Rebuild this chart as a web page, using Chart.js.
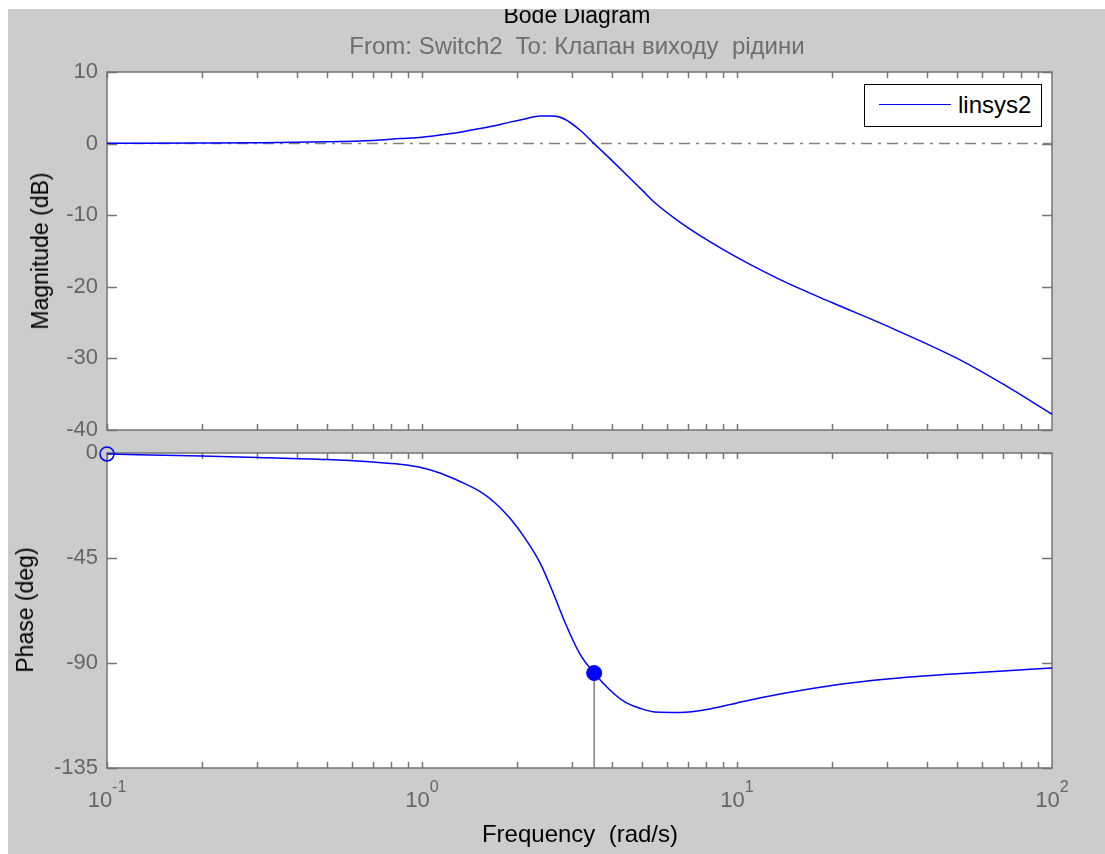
<!DOCTYPE html>
<html>
<head>
<meta charset="utf-8">
<script src="https://cdn.jsdelivr.net/npm/chart.js@4.4.1/dist/chart.umd.min.js"></script>
<style>
	html, body { margin: 0; padding: 0; background: #fff; width: 1105px; height: 854px; overflow: hidden; font-family: "Liberation Sans", Arial, sans-serif; }
	#bg { position: absolute; left: 8px; top: 9px; width: 1097px; height: 845px; background: #cccccc; }
	#topMask { position: absolute; left: 0; top: 0; width: 1105px; height: 9px; background: #fff; z-index: 5; }
	canvas { position: absolute; left: 0; top: 0; }
	.txt { position: absolute; white-space: pre; font-size: 23px; line-height: 26px; }
	.rot { transform: translate(-50%, -50%) rotate(-90deg); }
	#legend { position: absolute; left: 864px; top: 84px; width: 176px; height: 41px; border: 1px solid #000; background: #fff; z-index: 3; }
	#legend .sample { position: absolute; left: 14px; top: 19px; width: 72px; height: 0; border-top: 1.5px solid #0000ff; }
	#legend .lbl { position: absolute; left: 93px; top: 7px; font-size: 24px; line-height: 26px; color: #000; }
</style>
</head>
<body>
<div id="bg"></div>
<canvas id="magChart" width="1105" height="854"></canvas>
<canvas id="phaseChart" width="1105" height="854"></canvas>
<div id="topMask"></div>
<div class="txt" style="left:377px; width:400px; text-align:center; top:2px; color:#000;">Bode Diagram</div>
<div class="txt" style="left:277px; width:600px; text-align:center; top:33px; color:#6e6e6e; font-size:24px;">From: Switch2  To: Клапан виходу  рідини</div>
<div class="txt rot" style="left:40px; top:251px; color:#000;">Magnitude (dB)</div>
<div class="txt rot" style="left:25px; top:610px; color:#000;">Phase (deg)</div>
<div class="txt" style="left:380px; width:400px; text-align:center; top:821px; color:#000; font-size:24px;">Frequency  (rad/s)</div>
<div id="legend"><div class="sample"></div><div class="lbl">linsys2</div></div>

<script>
// --- Data ---
const freq = [0.1, 0.2, 0.3, 0.5, 0.7, 0.85, 1.0, 1.14, 1.32, 1.53, 1.7, 1.9, 2.12, 2.37, 2.6, 2.84, 3.17, 3.52, 3.95, 4.4, 5.0, 5.5, 6.6, 8.2, 10, 13.7, 20, 30, 50, 70, 100];
const magDb = [0.05, 0.08, 0.12, 0.25, 0.45, 0.7, 0.9, 1.2, 1.6, 2.1, 2.5, 3.0, 3.45, 3.85, 3.85, 3.4, 1.9, 0.0, -2.1, -4.1, -6.5, -8.3, -11.0, -13.7, -15.9, -19.0, -22.2, -25.5, -30.0, -33.6, -37.8];
const phaseDeg = [-0.4, -1.3, -1.9, -2.8, -3.9, -4.8, -6.3, -8.6, -12.2, -16.6, -21.2, -27.9, -36.4, -47.1, -59.5, -72.4, -86.1, -94.3, -101.6, -106.7, -109.7, -111.0, -111.2, -109.7, -107.1, -103.3, -99.6, -96.9, -94.6, -93.4, -92.1];

const markerFreq = [3.52];
const markerPhase = [-94.3];

const magTicks = [-40, -30, -20, -10, 0, 10];
const phaseTicks = [-135, -90, -45, 0];
const xTickValues = [0.1, 1, 10, 100];
const xTickExp = ["-1", "0", "1", "2"];

// --- Style ---
const FONT = "Liberation Sans";
const BOX_COLOR = "#737373";
const TICK_LABEL_COLOR = "#666666";
const BLUE = "#0000ff";

Chart.defaults.font.family = FONT;

function pts(xs, ys) {
	return xs.map((x, i) => ({ x: x, y: ys[i] }));
}

// white plot area, box and MATLAB-like inner ticks on all four sides
const matlabAxes = {
	id: "matlabAxes",
	beforeDatasetsDraw(chart, args, opts) {
		const { ctx, chartArea: a } = chart;
		const xs = chart.scales.x;
		const ys = chart.scales.y;
		ctx.save();
		ctx.fillStyle = "#fff";
		ctx.fillRect(a.left, a.top, a.right - a.left, a.bottom - a.top);
		ctx.strokeStyle = BOX_COLOR;
		ctx.lineWidth = 1.5;
		ctx.beginPath();
		// x ticks: decades and minors
		for (let d = -1; d < 2; d++) {
			for (let m = 1; m <= 9; m++) {
				const v = m * Math.pow(10, d);
				const px = Math.round(xs.getPixelForValue(v)) + 0.5;
				ctx.moveTo(px, a.bottom);
				ctx.lineTo(px, a.bottom - 6);
				ctx.moveTo(px, a.top);
				ctx.lineTo(px, a.top + 6);
			}
		}
		// y ticks
		opts.yTicks.forEach((v) => {
			const py = Math.round(ys.getPixelForValue(v)) + 0.5;
			ctx.moveTo(a.left, py);
			ctx.lineTo(a.left + 10, py);
			ctx.moveTo(a.right, py);
			ctx.lineTo(a.right - 10, py);
		});
		ctx.stroke();
		ctx.strokeRect(a.left, a.top, a.right - a.left, a.bottom - a.top);
		ctx.restore();
	},
};

// x tick labels as 10 with a raised exponent
const decadeLabels = {
	id: "decadeLabels",
	afterDraw(chart) {
		const ctx = chart.ctx;
		const xs = chart.scales.x;
		const a = chart.chartArea;
		ctx.save();
		ctx.fillStyle = TICK_LABEL_COLOR;
		ctx.textBaseline = "alphabetic";
		ctx.textAlign = "left";
		xTickValues.forEach((v, i) => {
			const px = xs.getPixelForValue(v);
			ctx.font = "22px " + FONT;
			const wb = ctx.measureText("10").width;
			ctx.font = "16px " + FONT;
			const we = ctx.measureText(xTickExp[i]).width;
			const x0 = px - (wb + we) / 2;
			ctx.font = "22px " + FONT;
			ctx.fillText("10", x0, a.bottom + 39);
			ctx.font = "16px " + FONT;
			ctx.fillText(xTickExp[i], x0 + wb, a.bottom + 24);
		});
		ctx.restore();
	},
};

function yAxis(min, max, step) {
	return {
		min: min,
		max: max,
		ticks: { stepSize: step, color: TICK_LABEL_COLOR, font: { size: 22 }, padding: 9 },
		grid: { display: false, drawTicks: false },
		border: { display: false },
		afterFit(s) {
			s.width = 107;
			s.paddingTop = 0;
			s.paddingBottom = 0;
		},
	};
}

function xAxis() {
	return { type: "logarithmic", min: 0.1, max: 100, display: false };
}

const commonOptions = {
	responsive: false,
	animation: false,
	events: [],
	plugins: { legend: { display: false }, tooltip: { enabled: false } },
};

new Chart(document.getElementById("magChart").getContext("2d"), {
	type: "line",
	data: {
		datasets: [
			{
				data: pts(freq, magDb),
				borderColor: BLUE,
				borderWidth: 1.5,
				pointRadius: 0,
				cubicInterpolationMode: "monotone",
				fill: false,
			},
			{
				data: pts([0.1, 100], [0, 0]),
				borderColor: "#808080",
				borderWidth: 1.5,
				borderDash: [11, 6, 3, 6],
				pointRadius: 0,
				fill: false,
			},
		],
	},
	options: {
		...commonOptions,
		layout: { padding: { left: 0, right: 53, top: 72, bottom: 424 } },
		plugins: { ...commonOptions.plugins, matlabAxes: { yTicks: magTicks } },
		scales: { x: xAxis(), y: yAxis(-40, 10, 10) },
	},
	plugins: [matlabAxes],
});

new Chart(document.getElementById("phaseChart").getContext("2d"), {
	type: "line",
	data: {
		datasets: [
			{
				data: pts(freq, phaseDeg),
				borderColor: BLUE,
				borderWidth: 1.5,
				pointRadius: 0,
				cubicInterpolationMode: "monotone",
				fill: false,
			},
			{
				data: pts(markerFreq, markerPhase),
				showLine: false,
				pointRadius: 7.5,
				pointBackgroundColor: BLUE,
				pointBorderColor: BLUE,
				clip: false,
			},
			{
				data: pts([freq[0]], [phaseDeg[0]]),
				showLine: false,
				pointRadius: 7,
				pointBackgroundColor: "rgba(0,0,0,0)",
				pointBorderColor: BLUE,
				pointBorderWidth: 1.5,
				clip: false,
			},
			{
				data: pts([markerFreq[0], markerFreq[0]], [markerPhase[0], -135]),
				borderColor: "#808080",
				borderWidth: 1.5,
				pointRadius: 0,
				fill: false,
			},
		],
	},
	options: {
		...commonOptions,
		layout: { padding: { left: 0, right: 53, top: 453, bottom: 86 } },
		plugins: { ...commonOptions.plugins, matlabAxes: { yTicks: phaseTicks } },
		scales: { x: xAxis(), y: yAxis(-135, 0, 45) },
	},
	plugins: [matlabAxes, decadeLabels],
});
</script>
</body>
</html>
